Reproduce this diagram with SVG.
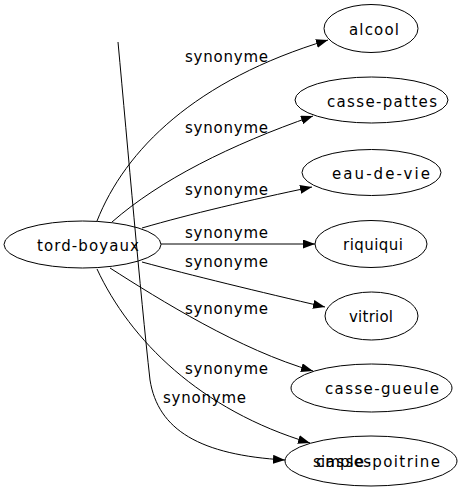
<svg xmlns="http://www.w3.org/2000/svg" width="463" height="491" viewBox="0 0 463 491">
<style>
.n ellipse{fill:none;stroke:#000;stroke-width:1}
text{font-family:"DejaVu Sans",sans-serif;font-size:15px;fill:#000}
.e path{fill:none;stroke:#000;stroke-width:1}
</style>
<defs>
<marker id="arr" markerWidth="12" markerHeight="9" refX="12" refY="4.5" orient="auto" markerUnits="userSpaceOnUse"><path d="M0,0 L12,4.5 L0,9 z" fill="#000"/></marker>
</defs>
<rect width="463" height="491" fill="#fff"/>
<g id="edges" class="e">
<path d="M97,221 C125,150 195,80 328,40" marker-end="url(#arr)"/>
<path d="M112,222 C160,180 230,145 313,116" marker-end="url(#arr)"/>
<path d="M142,228 C190,214 250,200 312,187" marker-end="url(#arr)"/>
<path d="M161,244 L315,244" marker-end="url(#arr)"/>
<path d="M142,262 C190,275 260,292 325,307" marker-end="url(#arr)"/>
<path d="M110,268 C160,300 240,350 313,371" marker-end="url(#arr)"/>
<path d="M97,269 C130,340 200,410 310,443" marker-end="url(#arr)"/>
<path d="M118,42 C128,150 140,290 150,380 C158,430 200,455 285,460" marker-end="url(#arr)"/>
<text x="185" y="62" textLength="83">synonyme</text>
<text x="185" y="133" textLength="83">synonyme</text>
<text x="185" y="195" textLength="83">synonyme</text>
<text x="185" y="238" textLength="83">synonyme</text>
<text x="185" y="267" textLength="83">synonyme</text>
<text x="185" y="314" textLength="83">synonyme</text>
<text x="185" y="374" textLength="83">synonyme</text>
<text x="163" y="403" textLength="83">synonyme</text>
</g>
<g id="tord-boyaux" class="n"><ellipse cx="82.5" cy="244.5" rx="78.5" ry="23.5"/><text x="37" y="250.5" textLength="102">tord-boyaux</text></g>
<g id="alcool" class="n"><ellipse cx="371" cy="28.5" rx="47" ry="24"/><text x="349" y="34.5" textLength="50">alcool</text></g>
<g id="casse-pattes" class="n"><ellipse cx="371.5" cy="100" rx="76.5" ry="23"/><text x="327" y="106.5" textLength="110">casse-pattes</text></g>
<g id="eau-de-vie" class="n"><ellipse cx="371.5" cy="172.5" rx="69.5" ry="23"/><text x="332" y="179" textLength="98">eau-de-vie</text></g>
<g id="riquiqui" class="n"><ellipse cx="371" cy="244" rx="56" ry="23.5"/><text x="343" y="250" textLength="60">riquiqui</text></g>
<g id="vitriol" class="n"><ellipse cx="371.5" cy="316" rx="46.5" ry="24"/><text x="349" y="322" textLength="44">vitriol</text></g>
<g id="casse-gueule" class="n"><ellipse cx="371.5" cy="388" rx="80.5" ry="24"/><text x="325" y="394" textLength="114">casse-gueule</text></g>
<g id="casse-poitrine" class="n"><ellipse cx="371" cy="461" rx="86" ry="25"/><text x="316" y="467" textLength="124">casse-poitrine</text><text x="313" y="467" textLength="58">simples</text></g>
</svg>
